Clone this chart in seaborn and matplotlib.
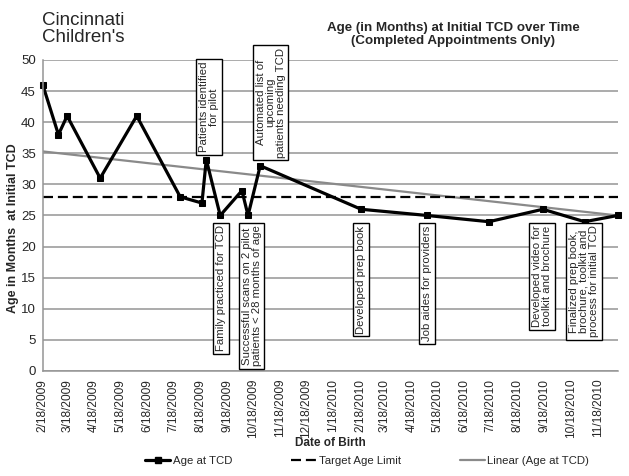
import pandas as pd
import seaborn as sns
import matplotlib.pyplot as plt
from matplotlib.lines import Line2D

# data
birth_dates = ['2009-02-18', '2009-03-08', '2009-03-18', '2009-04-25', '2009-06-06',
               '2009-07-26', '2009-08-20', '2009-08-25', '2009-09-10', '2009-10-05',
               '2009-10-12', '2009-10-26', '2010-02-19', '2010-05-06', '2010-07-16',
               '2010-09-16', '2010-11-03', '2010-12-11']
age_at_tcd = [46, 38, 41, 31, 41, 28, 27, 34, 25, 29, 25, 33, 26, 25, 24, 26, 24, 25]
target_age = 28
# Excel "Linear (Age at TCD)" trend, read at first and last date
trend_ends = [35.3, 25.0]

tick_labels = ['2/18/2009', '3/18/2009', '4/18/2009', '5/18/2009', '6/18/2009',
               '7/18/2009', '8/18/2009', '9/18/2009', '10/18/2009', '11/18/2009',
               '12/18/2009', '1/18/2010', '2/18/2010', '3/18/2010', '4/18/2010',
               '5/18/2010', '6/18/2010', '7/18/2010', '8/18/2010', '9/18/2010',
               '10/18/2010', '11/18/2010']

# annotations: text, date it points at
notes_top = [
    ('Patients identified\nfor pilot', '2009-08-28'),
    ('Automated list of\nupcoming\npatients needing TCD', '2009-11-07'),
]
notes_bottom = [
    ('Family practiced for TCD', '2009-09-11'),
    ('Successful scans on 2 pilot\npatients < 28 months of age', '2009-10-16'),
    ('Developed prep book', '2010-02-19'),
    ('Job aides for providers', '2010-05-06'),
    ('Developed video for\ntoolkit and brochure', '2010-09-15'),
    ('Finalized prep book,\nbrochure, toolkit and\nprocess for initial TCD', '2010-11-02'),
]

df = pd.DataFrame({'date': pd.to_datetime(birth_dates), 'age': age_at_tcd})
trend = pd.DataFrame({'date': df['date'].iloc[[0, -1]].values, 'age': trend_ends})

sns.set_theme(style='white')
plt.rcParams['font.family'] = ['Liberation Sans', 'DejaVu Sans']

fig = plt.figure(figsize=(6.29, 4.76), dpi=100)
ax = fig.add_axes([0.068, 0.2206, 0.914, 0.6534])

grid_c = '#959595'
ax.set_ylim(0, 50)
ax.set_yticks(range(0, 51, 5))
ax.yaxis.grid(True, color=grid_c, lw=1.1)
ax.set_axisbelow(True)
for s in ['top', 'right']:
    ax.spines[s].set_visible(False)
for s in ['left', 'bottom']:
    ax.spines[s].set_color(grid_c)
    ax.spines[s].set_linewidth(1.1)

sns.lineplot(data=trend, x='date', y='age', color='#8a8a8a', lw=1.6, ax=ax)
ax.axhline(target_age, color='black', lw=1.6, dashes=(4.5, 2.2))
sns.lineplot(data=df, x='date', y='age', color='black', lw=2.3, marker='s',
             markersize=4.5, markeredgecolor='black', clip_on=False, ax=ax)

ax.set_xlim(df['date'].iloc[0], df['date'].iloc[-1])
ticks = pd.to_datetime(tick_labels, format='%m/%d/%Y')
ax.set_xticks(ticks)
ax.set_xticklabels(tick_labels, rotation=90, fontsize=8.6)
ax.tick_params(axis='x', direction='inout', length=5, color=grid_c, width=1, pad=3)
ax.tick_params(axis='y', direction='out', length=3, color=grid_c, labelsize=9.5, pad=2)
ax.set_xlabel('')
ax.set_ylabel('Age in Months  at Initial TCD', fontsize=9, fontweight='bold')
ax.yaxis.set_label_coords(-0.042, 0.46)

box = dict(boxstyle='square,pad=0.25', fc='white', ec='black', lw=1)
top_y = [35.2, 34.3]
for (txt, d), y in zip(notes_top, top_y):
    ax.text(pd.Timestamp(d), y, txt, rotation=90, ha='center', va='bottom',
            fontsize=8.2, linespacing=1.0, bbox=box, clip_on=False)
for txt, d in notes_bottom:
    ax.text(pd.Timestamp(d), 23.4, txt, rotation=90, ha='center', va='top',
            fontsize=8.2, linespacing=1.0, bbox=box)

fig.text(0.72, 0.927, 'Age (in Months) at Initial TCD over Time\n(Completed Appointments Only)',
         ha='center', va='center', fontsize=9.6, fontweight='bold', linespacing=1.1)
fig.text(0.525, 0.069, 'Date of Birth', ha='center', va='center', fontsize=8.5,
         fontweight='bold')

# logo text
fig.text(0.067, 0.957, 'Cincinnati', ha='left', va='center', fontsize=13.5)
fig.text(0.067, 0.921, "Children's", ha='left', va='center', fontsize=13.5)

handles = [
    Line2D([], [], color='black', lw=2.3, marker='s', markersize=4.5),
    Line2D([], [], color='black', lw=1.6, dashes=(4.5, 2.2)),
    Line2D([], [], color='#8a8a8a', lw=1.6),
]
fig.legend(handles, ['Age at TCD', 'Target Age Limit', 'Linear (Age at TCD)'],
           loc='center', bbox_to_anchor=(0.584, 0.031), ncol=3, frameon=False,
           fontsize=8.2, handlelength=2.2, handletextpad=0.2, columnspacing=5.2)

fig.savefig('out.png', dpi=100)
